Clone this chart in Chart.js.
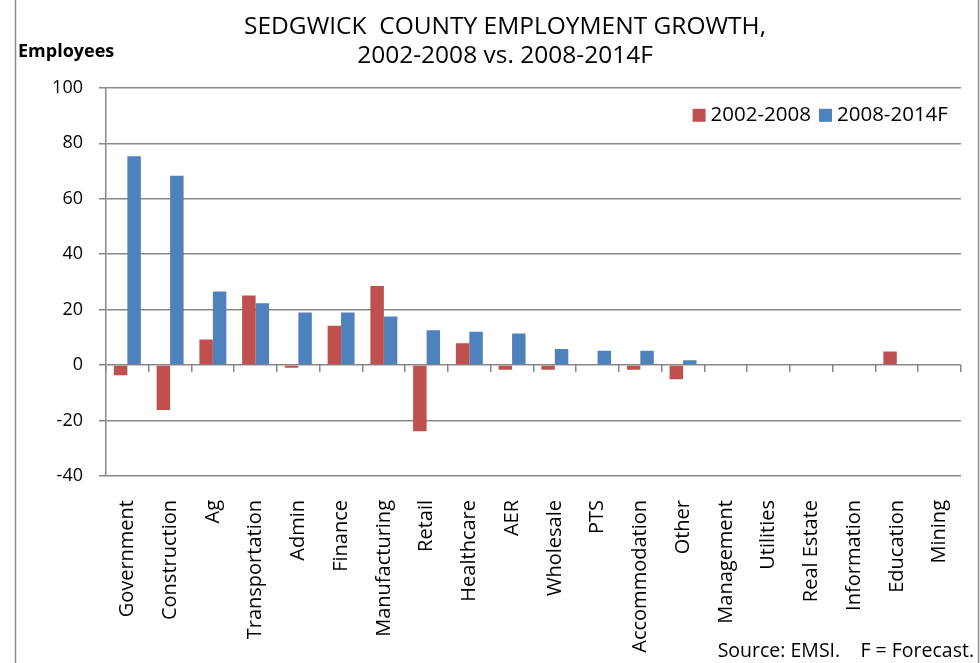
<!DOCTYPE html>
<html>
<head>
<meta charset="utf-8">
<script src="https://cdn.jsdelivr.net/npm/chart.js@4.4.1/dist/chart.umd.min.js"></script>
<style>
  html, body { margin: 0; padding: 0; background: #fff; }
  #wrap { width: 980px; height: 663px; }
</style>
</head>
<body>
<div id="wrap"><canvas id="growthChart" width="980" height="663"></canvas></div>
<script>
const categories = ['Government', 'Construction', 'Ag', 'Transportation', 'Admin', 'Finance',
    'Manufacturing', 'Retail', 'Healthcare', 'AER', 'Wholesale', 'PTS', 'Accommodation',
    'Other', 'Management', 'Utilities', 'Real Estate', 'Information', 'Education', 'Mining'];
const growth0208 = [-3.7, -16.2, 9.2, 25.1, -1, 14.2, 28.5, -23.9, 7.9, -1.7, -1.7, 0, -1.7, -5.1, 0, 0, 0, 0, 4.9, 0];
const growth0814 = [75.3, 68.3, 26.5, 22.3, 19, 19, 17.5, 12.6, 12.0, 11.4, 5.8, 5.2, 5.2, 1.7, 0, 0, 0, 0, 0, 0];
const yTicks = [-40, -20, 0, 20, 40, 60, 80, 100];

const FONT = "'Open Sans', sans-serif";
const GRID = '#878787';

// frame lines, legend inside the plot, axis caption and source note
const extras = {
    id: 'extras',
    afterDraw(chart) {
        const c = chart.ctx;
        c.save();
        c.strokeStyle = '#8c8c8c';
        c.lineWidth = 1.5;
        c.beginPath();
        c.moveTo(15.5, 0); c.lineTo(15.5, 663);
        c.moveTo(978.5, 0); c.lineTo(978.5, 663);
        c.stroke();

        c.fillStyle = '#000';
        c.textBaseline = 'middle';
        c.font = "bold 18px " + FONT;
        c.fillText('Employees', 18, 52);
        c.font = "19.5px " + FONT;
        c.textAlign = 'right';
        c.fillText('Source: EMSI.    F = Forecast.', 974, 651);

        // legend, laid out right to left from the plot's top-right corner
        c.font = "20.5px " + FONT;
        c.textAlign = 'left';
        const sets = chart.data.datasets;
        let x = chart.chartArea.right - 13;
        const y = chart.chartArea.top + 27;
        for (let i = sets.length - 1; i >= 0; i--) {
            const w = c.measureText(sets[i].label).width;
            x -= w;
            c.fillStyle = '#000';
            c.fillText(sets[i].label, x, y);
            x -= 18;
            c.fillStyle = sets[i].backgroundColor;
            c.fillRect(x, y - 6, 13, 13);
            x -= 8;
        }
        c.restore();
    }
};

new Chart(document.getElementById('growthChart'), {
    type: 'bar',
    data: {
        labels: categories,
        datasets: [{
            label: '2002-2008',
            data: growth0208,
            backgroundColor: '#C0504D'
        }, {
            label: '2008-2014F',
            data: growth0814,
            backgroundColor: '#4F81BD'
        }]
    },
    options: {
        responsive: false,
        animation: false,
        layout: { padding: { left: 48, right: 18, top: 0, bottom: 0 } },
        datasets: { bar: { categoryPercentage: 0.63, barPercentage: 1 } },
        plugins: {
            title: {
                display: true,
                text: ['SEDGWICK  COUNTY EMPLOYMENT GROWTH,', '2002-2008 vs. 2008-2014F'],
                color: '#000',
                font: { family: FONT, size: 24.5, weight: 'normal', lineHeight: 1.2 },
                padding: { top: 12, bottom: 17 }
            },
            legend: { display: false },
            tooltip: { enabled: false }
        },
        scales: {
            x: {
                grid: { display: false },
                border: { display: false },
                ticks: {
                    color: '#000',
                    font: { family: FONT, size: 20 },
                    maxRotation: 90,
                    minRotation: 90,
                    autoSkip: false,
                    padding: 16
                },
                afterFit(scale) { scale.height = 187; }
            },
            x2: {
                type: 'category',
                position: { y: 0 },
                offset: true,
                grid: { drawOnChartArea: false, drawTicks: true, tickLength: 7, color: GRID, lineWidth: 1.5, offset: true },
                border: { display: false },
                ticks: { display: false }
            },
            y: {
                min: -40,
                max: 100,
                afterBuildTicks(scale) { scale.ticks = yTicks.map(v => ({ value: v })); },
                grid: { color: GRID, lineWidth: 1.5, tickLength: 7 },
                border: { color: GRID, width: 1.5 },
                ticks: {
                    color: '#000',
                    font: { family: FONT, size: 18 },
                    padding: 16
                },
                afterFit(scale) { scale.width = 58; }
            }
        }
    },
    plugins: [extras]
});
</script>
</body>
</html>
